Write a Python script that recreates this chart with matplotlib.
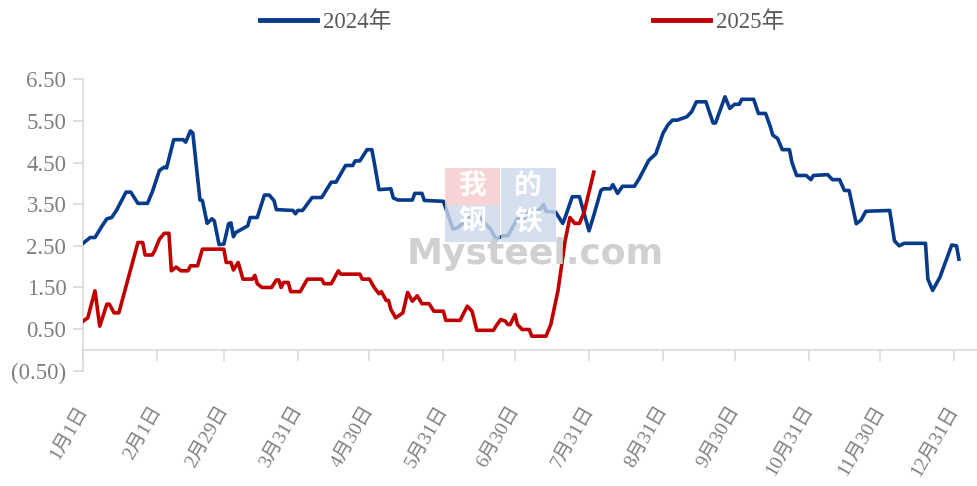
import numpy as np
import pandas as pd
import matplotlib
matplotlib.use("Agg")
import matplotlib.pyplot as plt
from matplotlib.lines import Line2D
from matplotlib.patches import Rectangle
from matplotlib.transforms import ScaledTranslation

FONT = ['Liberation Serif', 'Noto Sans CJK SC']
plt.rcParams['font.family'] = FONT

# day offsets from 1 Jan (2024 calendar) and values
days_2024 = [0, 3, 5, 8, 10, 12, 14, 18, 20, 23, 27, 29, 32, 34, 35, 38, 42, 43, 45, 46,
             49, 50, 52, 54, 55, 57, 59, 61, 62, 63, 64, 69, 70, 73, 76, 78, 80, 81, 88, 89,
             90, 92, 96, 100, 104, 106, 110, 113, 114, 116, 119, 121, 122, 124, 129, 130, 132, 138, 139, 142,
             143, 151, 155, 157, 162, 164, 166, 171, 173, 176, 178, 182, 185, 187, 191, 193, 194, 198, 201, 202,
             205, 208, 210, 212, 214, 217, 218, 221, 222, 224, 226, 231, 233, 237, 240, 243, 245, 247, 249, 253,
             255, 257, 261, 264, 265, 269, 271, 273, 275, 276, 281, 283, 286, 288, 289, 291, 293, 296, 297, 299,
             303, 305, 306, 312, 314, 317, 319, 321, 324, 326, 328, 338, 340, 342, 344, 353, 354, 356, 359, 364,
             366, 367]
vals_2024 = [2.56, 2.70, 2.70, 2.98, 3.15, 3.18, 3.35, 3.79, 3.79, 3.52, 3.52, 3.79, 4.31, 4.39, 4.37, 5.05, 5.05, 4.99, 5.26, 5.21,
             3.60, 3.59, 3.04, 3.15, 3.10, 2.53, 2.54, 3.03, 3.05, 2.72, 2.82, 2.98, 3.18, 3.18, 3.72, 3.72, 3.59, 3.37, 3.35, 3.27,
             3.35, 3.35, 3.66, 3.66, 4.03, 4.03, 4.43, 4.43, 4.54, 4.54, 4.81, 4.81, 4.51, 3.85, 3.87, 3.65, 3.60, 3.60, 3.76, 3.76,
             3.59, 3.57, 2.90, 2.94, 3.18, 3.27, 3.20, 2.88, 2.66, 2.74, 2.74, 3.15, 3.17, 3.35, 3.35, 3.49, 3.33, 3.31, 3.04, 3.18,
             3.68, 3.68, 3.27, 2.86, 3.23, 3.83, 3.87, 3.87, 3.97, 3.76, 3.93, 3.93, 4.11, 4.55, 4.71, 5.20, 5.40, 5.52, 5.52, 5.60,
             5.72, 5.96, 5.96, 5.45, 5.45, 6.08, 5.80, 5.90, 5.90, 6.02, 6.02, 5.68, 5.68, 5.36, 5.16, 5.08, 4.81, 4.81, 4.51, 4.19,
             4.19, 4.09, 4.19, 4.21, 4.09, 4.09, 3.83, 3.83, 3.03, 3.12, 3.33, 3.35, 2.62, 2.50, 2.56, 2.56, 1.70, 1.43, 1.74, 2.52,
             2.50, 2.18]

days_2025 = [0, 2, 5, 7, 10, 11, 13, 15, 23, 25, 26, 29, 30, 32, 34, 36, 37, 39, 41, 44,
             45, 48, 50, 59, 60, 62, 63, 65, 67, 71, 72, 73, 75, 79, 81, 82, 83, 84, 86, 87,
             91, 94, 100, 101, 104, 107, 108, 116, 117, 120, 122, 124, 125, 127, 128, 129, 131, 134, 136, 138,
             140, 142, 145, 147, 151, 152, 158, 161, 163, 165, 172, 173, 175, 177, 178, 179, 181, 182, 184, 187,
             188, 194, 196, 199, 202, 204, 206, 208, 210, 214]
vals_2025 = [0.69, 0.77, 1.42, 0.57, 1.10, 1.10, 0.89, 0.89, 2.58, 2.58, 2.28, 2.28, 2.38, 2.66, 2.80, 2.80, 1.90, 1.99, 1.90, 1.90,
             2.02, 2.02, 2.42, 2.42, 2.10, 2.10, 1.92, 2.10, 1.70, 1.70, 1.79, 1.59, 1.50, 1.50, 1.68, 1.68, 1.50, 1.62, 1.62, 1.40,
             1.40, 1.70, 1.70, 1.59, 1.59, 1.90, 1.82, 1.82, 1.70, 1.70, 1.50, 1.35, 1.40, 1.19, 1.19, 0.97, 0.77, 0.89, 1.38, 1.17,
             1.30, 1.11, 1.11, 0.93, 0.93, 0.71, 0.71, 1.05, 0.93, 0.47, 0.47, 0.57, 0.73, 0.69, 0.61, 0.61, 0.85, 0.61, 0.49, 0.49,
             0.33, 0.33, 0.61, 1.42, 2.62, 3.18, 3.04, 3.04, 3.31, 4.27]

tick_dates = ['01-01', '02-01', '02-29', '03-31', '04-30', '05-31', '06-30',
              '07-31', '08-31', '09-30', '10-31', '11-30', '12-31']
tick_labels = ['1月1日', '2月1日', '2月29日', '3月31日', '4月30日', '5月31日', '6月30日',
               '7月31日', '8月31日', '9月30日', '10月31日', '11月30日', '12月31日']
series_names = ['2024年', '2025年']
y_ticks = [-0.5, 0.5, 1.5, 2.5, 3.5, 4.5, 5.5, 6.5]

BLUE = '#053B8A'
RED = '#C00000'
GRID = '#D9D9D9'
TXT = '#7F7F7F'

start = pd.Timestamp('2024-01-01')
tick_pos = [(pd.Timestamp('2024-' + d) - start).days for d in tick_dates]

fig = plt.figure(figsize=(9.78, 4.86), dpi=100)
ax = fig.add_axes([0.0849, 0.2372, 0.9151, 0.5996])

# watermark
wm = dict(transform=fig.transFigure, zorder=0)
for (x0, y0, c) in [(445, 168, '#F6C9CB'), (501, 168, '#CCD7EA'),
                    (445, 205, '#CCD7EA'), (501, 205, '#CCD7EA')]:
    fig.patches.append(Rectangle((x0 / 978, 1 - (y0 + 37) / 486), 55 / 978, 37 / 486,
                                 facecolor=c, edgecolor='none', alpha=0.8, **wm))
for ch, (cx, cy) in zip('我的钢铁', [(472, 186), (528, 186), (472, 222), (528, 222)]):
    fig.text(cx / 978, 1 - cy / 486, ch, ha='center', va='center', fontsize=20,
             color='white', family=['Noto Sans CJK SC'], weight='bold', **wm)
fig.text(535 / 978, 1 - 254 / 486, 'Mysteel.com', ha='center', va='center', fontsize=26,
         color='#D0D0D0', family=['DejaVu Sans'], weight='bold', **wm)
ax.set_facecolor('none')

ax.plot(days_2024, vals_2024, color=BLUE, lw=2.6, solid_joinstyle='round', zorder=3)
ax.plot(days_2025, vals_2025, color=RED, lw=2.6, solid_joinstyle='round', zorder=4)

ax.set_xlim(0, 375)
ax.set_ylim(-0.5, 6.5)

for s in ['top', 'right']:
    ax.spines[s].set_visible(False)
ax.spines['left'].set_color(GRID)
ax.spines['left'].set_linewidth(1.2)
ax.spines['bottom'].set_color(GRID)
ax.spines['bottom'].set_linewidth(1.2)
ax.spines['bottom'].set_position(('data', 0))

ax.set_yticks(y_ticks)
ax.set_yticklabels([f'({abs(v):.2f})' if v < 0 else f'{v:.2f}' for v in y_ticks],
                   fontsize=16.5, color=TXT, family=FONT)
ax.tick_params(axis='y', length=7, width=1.2, color=GRID, pad=5)

ax.set_xticks(tick_pos)
ax.set_xticklabels(tick_labels, rotation=60, ha='right', va='top',
                   fontsize=14, color=TXT, family=FONT)
ax.tick_params(axis='x', length=8, width=1.2, color=GRID, pad=30)
off = ScaledTranslation(8 / 100, 0, fig.dpi_scale_trans)
for lab in ax.get_xticklabels():
    lab.set_transform(lab.get_transform() + off)

handles = [Line2D([], [], color=BLUE, lw=3.5), Line2D([], [], color=RED, lw=3.5)]
fig.legend(handles, series_names, loc='center left', bbox_to_anchor=(260 / 978, 1 - 22 / 486),
           ncol=2, frameon=False, handlelength=2.5, handletextpad=0.25,
           columnspacing=11.4, borderpad=0, borderaxespad=0,
           prop={'family': FONT, 'size': 16.5}, labelcolor='#595959')

fig.savefig('out.png', dpi=100)
